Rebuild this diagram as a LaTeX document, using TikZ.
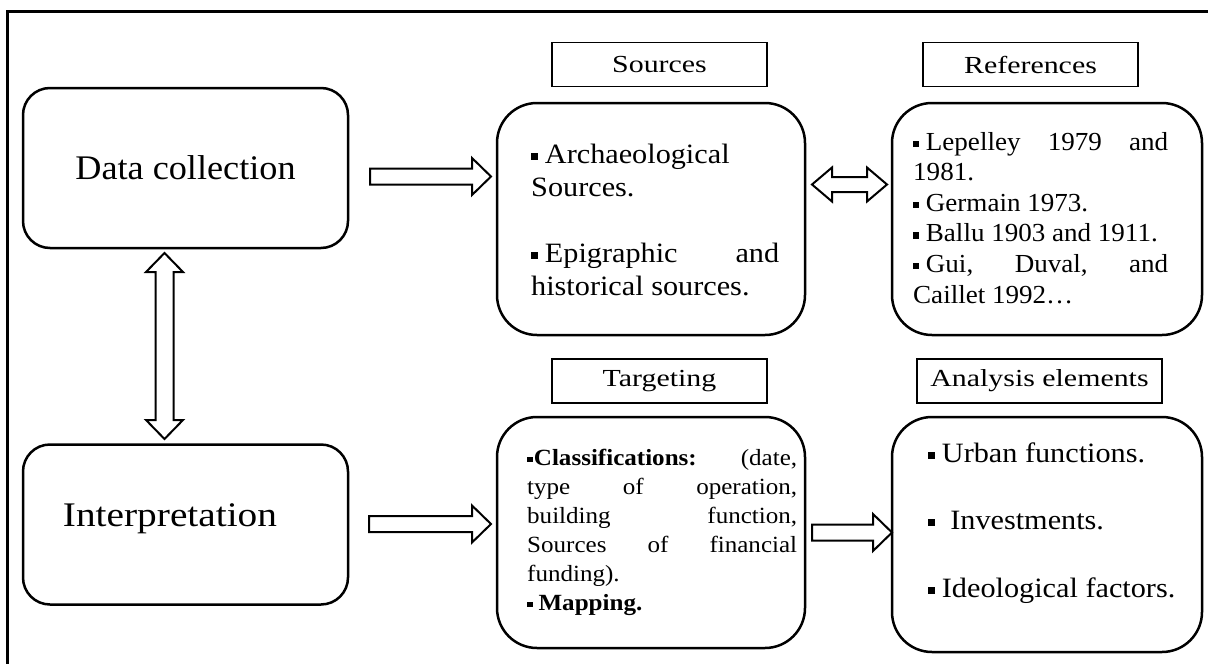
\documentclass[tikz,border=0pt]{standalone}
\usepackage{fontspec}
\setmainfont{Liberation Serif}
\newfontfamily\bodyf{Liberation Serif}[FakeStretch=1.08]
\newfontfamily\reff{Liberation Serif}[FakeStretch=1.04]
\newfontfamily\dcf{Liberation Serif}[FakeStretch=1.05]
\newfontfamily\interpf{Liberation Serif}[FakeStretch=1.14]
\newfontfamily\lblf{Liberation Serif}[FakeStretch=1.22]
\newcommand\bul{\rule[0.12em]{0.24em}{0.24em}\hspace{0.25em}}
\newcommand\bulns{\rule[0.12em]{0.24em}{0.24em}\hspace{0.05em}}
\newcommand\jl[2]{\makebox[#1][s]{#2}}
\newcommand\blockR[3]{% x1, x2 (tip), y
  \draw[blk] (#1,#3-8) -- ({#2-19},#3-8) -- ({#2-19},#3-18.5) -- (#2,#3)
    -- ({#2-19},#3+18.5) -- ({#2-19},#3+8) -- (#1,#3+8) -- cycle;}
\newcommand\blockLR[3]{% x1 (tip), x2 (tip), y
  \draw[blk] (#1,#3) -- ({#1+20},#3-17) -- ({#1+20},#3-7.5) -- ({#2-20},#3-7.5)
    -- ({#2-20},#3-17) -- (#2,#3) -- ({#2-20},#3+17) -- ({#2-20},#3+7.5)
    -- ({#1+20},#3+7.5) -- ({#1+20},#3+17) -- cycle;}
\newcommand\blockUD[3]{% x, y1 (tip), y2 (tip)
  \draw[blk] (#1,#2) -- (#1+18.5,{#2+19}) -- (#1+9,{#2+19}) -- (#1+9,{#3-19})
    -- (#1+18.5,{#3-19}) -- (#1,#3) -- (#1-18.5,{#3-19}) -- (#1-9,{#3-19})
    -- (#1-9,{#2+19}) -- (#1-18.5,{#2+19}) -- cycle;}
\tikzset{
  blk/.style={draw, line width=2pt, fill=white, line join=miter},
  bigbox/.style={draw, line width=2.5pt, rounded corners=27pt, inner sep=0pt,
    minimum width=325pt, minimum height=160pt},
  rbox/.style={draw, line width=2.5pt, rounded corners=40pt, inner sep=0pt},
  lblbox/.style={draw, line width=1.5pt, inner sep=0pt, minimum height=44pt,
    font=\lblf\fontsize{24.5}{29}\selectfont},
  txt/.style={inner sep=0pt, anchor=base west, align=left},
}
\begin{document}
\begin{tikzpicture}[x=1pt,y=-1pt]
\clip (0,0) rectangle (1208,664);
\fill[white] (0,0) rectangle (1208,664);
\draw[line width=3pt] (7.5,11) rectangle (1260,720);

% left boxes
\node[bigbox, font=\dcf\fontsize{34.5}{40}\selectfont] (dc) at (185.5,168) {Data collection};
\node[bigbox] (interp) at (185.5,524.5) {};
\node[inner sep=0pt, font=\interpf\fontsize{34.5}{40}\selectfont] (interptxt) at (170,519) {Interpretation};

% label boxes
\node[lblbox, minimum width=215pt] (srclbl) at (659.5,64.5) {Sources};
\node[lblbox, minimum width=215pt] (reflbl) at (1030.5,64.5) {References};
\node[lblbox, minimum width=215pt] (tgtlbl) at (659.5,381) {Targeting};
\node[lblbox, minimum width=245pt] (anlbl) at (1039.5,381) {Analysis elements};

% rounded content boxes
\node[rbox, minimum width=308pt, minimum height=232pt] (src) at (651,219) {};
\node[rbox, minimum width=310pt, minimum height=232pt] (ref) at (1047,219) {};
\node[rbox, minimum width=308pt, minimum height=231pt] (tgt) at (651,532.5) {};
\node[rbox, minimum width=310pt, minimum height=235pt] (an) at (1047,534.5) {};

% texts (anchored at the baseline of their last line)
\node[txt, font=\bodyf\fontsize{28}{33}\selectfont] (srctxt) at (531,295)
  {\bul Archaeological\\ Sources.\\[33pt]
   \jl{248pt}{\bul Epigraphic and}\\ historical sources.};
\node[txt, font=\reff\fontsize{26}{30.6}\selectfont] (reftxt) at (913,303)
  {\jl{255pt}{\bul Lepelley 1979 and}\\ 1981.\\ \bul Germain 1973.\\
   \bul Ballu 1903 and 1911.\\ \jl{255pt}{\bul Gui, Duval, and}\\ Caillet 1992\ldots};
\node[txt, font=\bodyf\fontsize{23.2}{29}\selectfont] (tgttxt) at (527,610)
  {\jl{270pt}{\bulns\textbf{Classifications:} (date,}\\
   \jl{270pt}{type of operation,}\\
   \jl{270pt}{building function,}\\
   \jl{270pt}{Sources of financial}\\
   funding).\\ \bul\textbf{Mapping.}};
\node[txt, font=\bodyf\fontsize{28}{67.5}\selectfont] (antxt) at (928,597)
  {\bul Urban functions.\\ \bul\hspace{0.3em}Investments.\\ \bul Ideological factors.};

% block arrows
\blockR{370}{491}{176.5}
\blockR{369}{491}{524}
\blockR{812}{892}{532.5}
\blockLR{812}{887}{184.5}
\blockUD{164.5}{253}{439}
\end{tikzpicture}
\end{document}
